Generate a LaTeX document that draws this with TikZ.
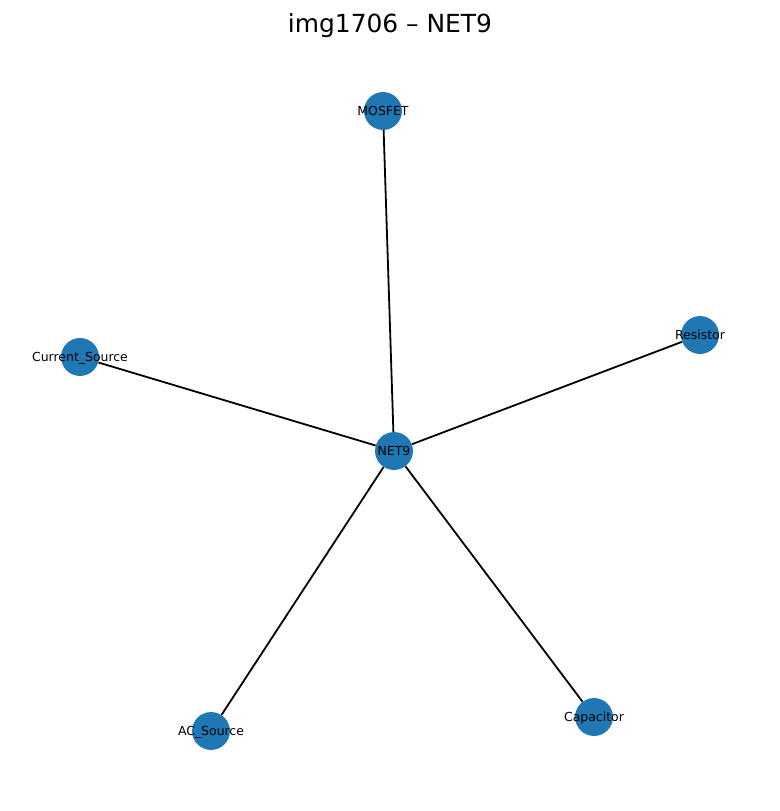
\documentclass[tikz,border=0pt]{standalone}
\usepackage{fontspec}
\setmainfont{DejaVu Sans}
\usepackage{tikz}
\usetikzlibrary{positioning}
\definecolor{nodeblue}{HTML}{1F77B4}
\tikzstyle{vertex}=[circle,fill=nodeblue,draw=none,minimum size=27.4pt,inner sep=0pt]
\tikzstyle{undirectededge} = [draw,line width=1.3pt,black]
\tikzstyle{vlabel} = [font=\fontsize{9}{10}\selectfont,inner sep=0pt,text height=6.6pt,text depth=0pt]
\tikzset{ttl/.style={font=\fontsize{18}{20}\selectfont,inner sep=0pt}}

\begin{document}
\begin{tikzpicture}[x=0.0254cm,y=-0.0254cm]

 \useasboundingbox (0,0) rectangle (779,811);

 %title
 \node[ttl] (title) at (390,26) {img1706 – NET9};

 %nodes
 \foreach \x/\y/\name/\label in {394/451/net/NET9, 383/111/mos/MOSFET, 700/335/res/Resistor,
                                80/357/cs/Current\_Source, 211/731/ac/AC\_Source, 594/717/cap/Capacitor}
   {
          \node[vertex] (\name) at (\x, \y) {};
          \node[vlabel] (\name-t) at (\name) {\label};
   }

 %edges
  \foreach \source/ \dest in {net/mos, net/res, net/cs, net/ac, net/cap}
         \path[undirectededge] (\source) -- (\dest);

\end{tikzpicture}
\end{document}
